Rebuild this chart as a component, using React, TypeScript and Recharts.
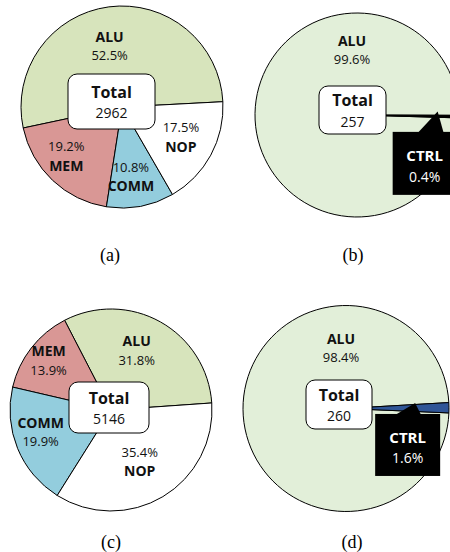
import React from "react";
import { PieChart, Pie, Cell } from "recharts";

// (a) and (c): instruction mix by class
const mixNames = ["ALU", "MEM", "COMM", "NOP"];
const mixA = [52.5, 19.2, 10.8, 17.5];
const mixC = [31.8, 13.9, 19.9, 35.4];

// (b) and (d): ALU vs control
const ctrlNames = ["ALU", "CTRL"];
const ctrlB = [99.6, 0.4];
const ctrlD = [98.4, 1.6];

const totals = [2962, 257, 5146, 260];
const captions = ["(a)", "(b)", "(c)", "(d)"];

const FONT = "'Open Sans', 'Noto Sans', sans-serif";

const toRows = (names: string[], values: number[]) =>
  names.map((name, i) => ({ name, value: values[i] }));

type LabelStyle = {
  ratio: number;
  angle?: number;
  nameFirst: boolean;
  callout?: { dx: number; dy: number; w: number; h: number };
};

type Panel = {
  data: { name: string; value: number }[];
  colors: string[];
  cx: number;
  cy: number;
  r: number;
  start: number;
  labels: LabelStyle[];
  box: { dx: number; dy: number; w: number; h: number };
  total: number;
  caption: string;
  capX: number;
  capY: number;
};

const mixColors = ["#d7e4bc", "#d99795", "#93cddd", "#ffffff"];

const panels: Panel[] = [
  {
    data: toRows(mixNames, mixA),
    colors: mixColors,
    cx: 117,
    cy: 102,
    r: 101,
    start: 3,
    labels: [
      { ratio: 0.56, nameFirst: true },
      { ratio: 0.73, nameFirst: false },
      { ratio: 0.75, nameFirst: false },
      { ratio: 0.72, nameFirst: false },
    ],
    box: { dx: -5.5, dy: -0.5, w: 87, h: 55 },
    total: totals[0],
    caption: captions[0],
    capX: 110,
    capY: 255,
  },
  {
    data: toRows(ctrlNames, ctrlB),
    colors: ["#e2efd9", "#000000"],
    cx: 352,
    cy: 110,
    r: 102,
    start: -0.2,
    labels: [
      { ratio: 0.59, angle: 90, nameFirst: true },
      { ratio: 0.84, nameFirst: true, callout: { dx: -13, dy: 52, w: 64, h: 63 } },
    ],
    box: { dx: 0.5, dy: 0, w: 67, h: 48 },
    total: totals[1],
    caption: captions[1],
    capX: 353,
    capY: 255,
  },
  {
    data: toRows(mixNames, mixC),
    colors: mixColors,
    cx: 106,
    cy: 405,
    r: 101,
    start: 4,
    labels: [
      { ratio: 0.62, nameFirst: true },
      { ratio: 0.72, nameFirst: true },
      { ratio: 0.7, nameFirst: true },
      { ratio: 0.65, nameFirst: false },
    ],
    box: { dx: 3, dy: 2.5, w: 80, h: 51 },
    total: totals[2],
    caption: captions[2],
    capX: 111,
    capY: 542,
  },
  {
    data: toRows(ctrlNames, ctrlD),
    colors: ["#e2efd9", "#2f5597"],
    cx: 341,
    cy: 403.5,
    r: 103,
    start: 3.3,
    labels: [
      { ratio: 0.54, angle: 90, nameFirst: true },
      { ratio: 0.72, nameFirst: true, callout: { dx: -7.5, dy: 42, w: 65, h: 62 } },
    ],
    box: { dx: -2, dy: 1, w: 66, h: 49 },
    total: totals[3],
    caption: captions[3],
    capX: 352,
    capY: 542,
  },
];

const makeLabel = (p: Panel) => (props: any) => {
  const { midAngle, index, value } = props;
  const s = p.labels[index];
  const name = p.data[index].name;
  const pct = `${Number(value).toFixed(1)}%`;
  const a = ((s.angle ?? midAngle) * Math.PI) / 180;
  const x = p.cx + p.r * s.ratio * Math.cos(a);
  const y = p.cy - p.r * s.ratio * Math.sin(a);

  if (s.callout) {
    const c = s.callout;
    const bx = x + c.dx;
    const by = y + c.dy;
    const top = by - c.h / 2;
    return (
      <g key={`cl-${index}`}>
        <polygon
          points={`${x},${y} ${x - 20},${top + 1} ${x + 6},${top + 1}`}
          fill="#000"
        />
        <rect x={bx - c.w / 2} y={top} width={c.w} height={c.h} fill="#000" />
        <text
          x={bx}
          y={by - 8}
          textAnchor="middle"
          dominantBaseline="central"
          fill="#fff"
          fontFamily={FONT}
          fontWeight="bold"
          fontSize={15}
        >
          {name}
        </text>
        <text
          x={bx}
          y={by + 13}
          textAnchor="middle"
          dominantBaseline="central"
          fill="#fff"
          fontFamily={FONT}
          fontSize={14}
        >
          {pct}
        </text>
      </g>
    );
  }

  const first = s.nameFirst ? name : pct;
  const second = s.nameFirst ? pct : name;
  return (
    <g key={`lb-${index}`}>
      <text
        x={x}
        y={y - 9.5}
        textAnchor="middle"
        dominantBaseline="central"
        fill="#111"
        fontFamily={FONT}
        fontWeight={s.nameFirst ? "bold" : "normal"}
        fontSize={s.nameFirst ? 14 : 13}
      >
        {first}
      </text>
      <text
        x={x}
        y={y + 9.5}
        textAnchor="middle"
        dominantBaseline="central"
        fill="#111"
        fontFamily={FONT}
        fontWeight={s.nameFirst ? "normal" : "bold"}
        fontSize={s.nameFirst ? 13 : 14}
      >
        {second}
      </text>
    </g>
  );
};

export default function App() {
  return (
    <div
      style={{
        position: "absolute",
        left: 0,
        top: 0,
        width: 450,
        height: 552,
        background: "#fff",
        overflow: "hidden",
      }}
    >
      <PieChart width={450} height={552}>
        {panels.map((p, i) => (
          <Pie
            key={i}
            data={p.data}
            dataKey="value"
            nameKey="name"
            cx={p.cx}
            cy={p.cy}
            outerRadius={p.r}
            startAngle={p.start}
            endAngle={p.start + 360}
            stroke="#000"
            strokeWidth={1}
            label={makeLabel(p)}
            labelLine={false}
            isAnimationActive={false}
          >
            {p.data.map((d, j) => (
              <Cell key={d.name} fill={p.colors[j]} />
            ))}
          </Pie>
        ))}
      </PieChart>
      <svg
        width={450}
        height={552}
        style={{ position: "absolute", left: 0, top: 0, pointerEvents: "none" }}
      >
        {panels.map((p, i) => {
          const bx = p.cx + p.box.dx;
          const by = p.cy + p.box.dy;
          return (
            <g key={i}>
              <rect
                x={bx - p.box.w / 2}
                y={by - p.box.h / 2}
                width={p.box.w}
                height={p.box.h}
                rx={9}
                ry={9}
                fill="#fff"
                stroke="#000"
                strokeWidth={1}
              />
              <text
                x={bx}
                y={by - 10}
                textAnchor="middle"
                dominantBaseline="central"
                fontFamily={FONT}
                fontWeight="bold"
                fontSize={16}
                fill="#111"
              >
                Total
              </text>
              <text
                x={bx}
                y={by + 11}
                textAnchor="middle"
                dominantBaseline="central"
                fontFamily={FONT}
                fontSize={14}
                fill="#111"
              >
                {p.total}
              </text>
              <text
                x={p.capX}
                y={p.capY}
                textAnchor="middle"
                dominantBaseline="central"
                fontFamily="'Liberation Serif', 'Times New Roman', serif"
                fontSize={18}
                fill="#000"
              >
                {p.caption}
              </text>
            </g>
          );
        })}
      </svg>
    </div>
  );
}
